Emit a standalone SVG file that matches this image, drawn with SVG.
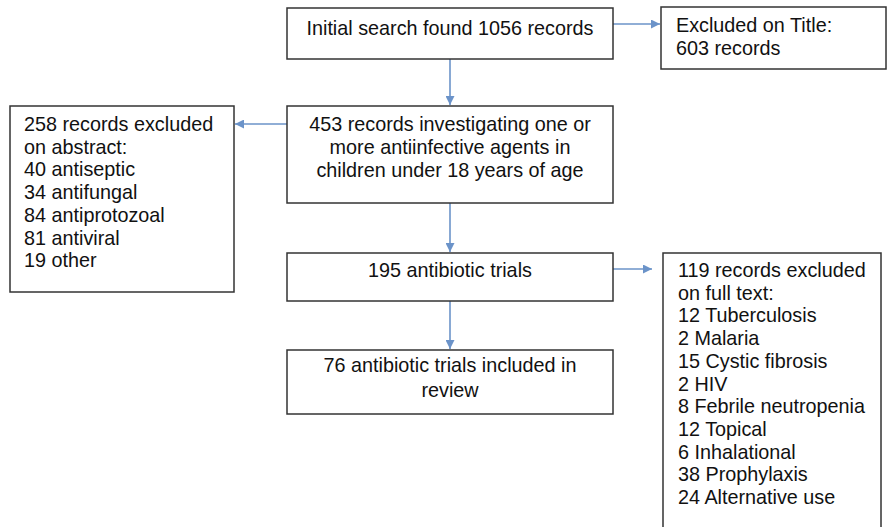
<svg xmlns="http://www.w3.org/2000/svg" width="888" height="527" viewBox="0 0 888 527">
<style>
.box{fill:#fff;stroke:#333;stroke-width:1.5}
text{font-family:"Liberation Sans",Arial,sans-serif;font-size:19.8px;fill:#111}
.c{text-anchor:middle}
.conn{stroke:#6b93c9;stroke-width:1.6;fill:none}
</style>
<defs>
<marker id="ah" viewBox="0 0 10 10" refX="10" refY="5" markerWidth="9" markerHeight="9" markerUnits="userSpaceOnUse" orient="auto">
<path d="M0,0 L10,5 L0,10 z" fill="#6b93c9"/>
</marker>
</defs>
<rect width="888" height="527" fill="#fff"/>
<g id="connectors">
<line class="conn" x1="613" y1="24" x2="660" y2="24" marker-end="url(#ah)"/>
<line class="conn" x1="450" y1="59" x2="450" y2="105" marker-end="url(#ah)"/>
<line class="conn" x1="287" y1="124" x2="235" y2="124" marker-end="url(#ah)"/>
<line class="conn" x1="450" y1="203" x2="450" y2="252" marker-end="url(#ah)"/>
<line class="conn" x1="613" y1="269" x2="652" y2="269" marker-end="url(#ah)"/>
<line class="conn" x1="450" y1="301" x2="450" y2="349" marker-end="url(#ah)"/>
</g>
<g id="n1">
<rect class="box" x="287" y="8" width="326" height="51"/>
<text class="c" x="450" y="35">Initial search found 1056 records</text>
</g>
<g id="n2">
<rect class="box" x="661" y="7" width="225" height="62"/>
<text x="676" y="32">Excluded on Title:</text>
<text x="676" y="55">603 records</text>
</g>
<g id="n3">
<rect class="box" x="287" y="106" width="326" height="97"/>
<text class="c" x="450" y="131">453 records investigating one or</text>
<text class="c" x="450" y="154">more antiinfective agents in</text>
<text class="c" x="450" y="177">children under 18 years of age</text>
</g>
<g id="n4">
<rect class="box" x="10" y="106" width="224" height="186"/>
<text x="24" y="131">258 records excluded</text>
<text x="24" y="153.7">on abstract:</text>
<text x="24" y="176.4">40 antiseptic</text>
<text x="24" y="199.1">34 antifungal</text>
<text x="24" y="221.8">84 antiprotozoal</text>
<text x="24" y="244.5">81 antiviral</text>
<text x="24" y="267.2">19 other</text>
</g>
<g id="n5">
<rect class="box" x="287" y="253" width="326" height="48"/>
<text class="c" x="450" y="277">195 antibiotic trials</text>
</g>
<g id="n6">
<rect class="box" x="287" y="350" width="326" height="64"/>
<text class="c" x="450" y="372">76 antibiotic trials included in</text>
<text class="c" x="450" y="397">review</text>
</g>
<g id="n7">
<rect class="box" x="663" y="253" width="218" height="290"/>
<text x="678" y="277">119 records excluded</text>
<text x="678" y="299.7">on full text:</text>
<text x="678" y="322.4">12 Tuberculosis</text>
<text x="678" y="345.1">2 Malaria</text>
<text x="678" y="367.8">15 Cystic fibrosis</text>
<text x="678" y="390.5">2 HIV</text>
<text x="678" y="413.2">8 Febrile neutropenia</text>
<text x="678" y="435.9">12 Topical</text>
<text x="678" y="458.6">6 Inhalational</text>
<text x="678" y="481.3">38 Prophylaxis</text>
<text x="678" y="504">24 Alternative use</text>
</g>
</svg>
